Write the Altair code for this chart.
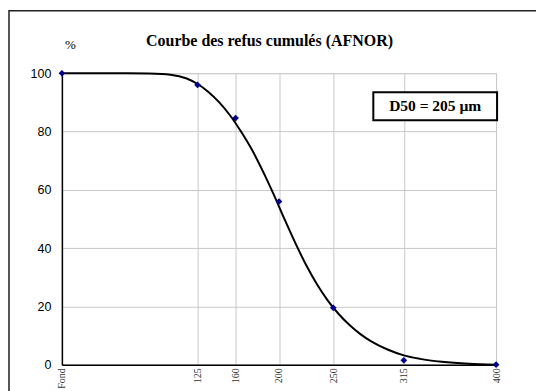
import altair as alt
import pandas as pd

# measured points (sieve opening in µm, cumulative retained %)
sieve = [0, 125, 160, 200, 250, 315, 400]
refus = [100, 96, 84.6, 56, 19.5, 1.5, 0]

# fitted curve
curve_x = [0, 60, 80, 100, 115, 125, 135, 145, 155, 165, 175, 185, 195, 205, 215, 225,
           235, 245, 255, 265, 275, 285, 300, 315, 330, 350, 375, 400]
curve_y = [100, 100, 99.9, 99.5, 98.2, 96.3, 93.6, 90, 85.5, 80, 73.8, 66.5, 58.5, 50, 41.8, 34.2,
           27.6, 22, 17.4, 13.6, 10.5, 8, 5.2, 3.2, 2, 1, 0.3, 0]

tick_values = [0, 125, 160, 200, 250, 315, 400]

pts = pd.DataFrame({"x": sieve, "y": refus})
crv = pd.DataFrame({"x": curve_x, "y": curve_y})

W, H = 435, 292

xscale = alt.Scale(domain=[0, 400], nice=False, zero=False)
yscale = alt.Scale(domain=[0, 100], nice=False)

xaxis = alt.Axis(values=tick_values, title=None, labelAngle=-90, labelAlign="right",
                 labelBaseline="middle", labelFontSize=10, labelFont="Liberation Serif",
                 labelColor="#333", labelExpr="datum.value == 0 ? 'Fond' : datum.label",
                 grid=True, gridColor="#c8c8c8", gridWidth=1, domainColor="black",
                 domainWidth=1.5, ticks=False, labelPadding=3)
yaxis = alt.Axis(values=[0, 20, 40, 60, 80, 100], title="%", titleAngle=0,
                 titleX=8, titleY=-29, titleAlign="center", titleBaseline="middle",
                 titleFont="Liberation Serif", titleFontSize=13, titleFontWeight="normal",
                 titleColor="black",
                 labelFont="Liberation Sans", labelFontSize=12.5, labelColor="black",
                 grid=True, gridColor="#c8c8c8", gridWidth=1, domainColor="black",
                 domainWidth=1.5, ticks=False, labelPadding=11)

frame = alt.Chart(pd.DataFrame({"a": [0]})).mark_rect(
    fill=None, stroke="#222", strokeWidth=1.5, clip=False
).encode(x=alt.value(-53), x2=alt.value(W + 60), y=alt.value(-62.5), y2=alt.value(H + 40))

line = alt.Chart(crv).mark_line(color="black", strokeWidth=2, interpolate="monotone").encode(
    x=alt.X("x:Q", scale=xscale, axis=xaxis),
    y=alt.Y("y:Q", scale=yscale, axis=yaxis),
)

points = alt.Chart(pts).mark_point(shape="diamond", filled=True, color="#00008b",
                                   size=45, opacity=1).encode(
    x=alt.X("x:Q", scale=xscale),
    y=alt.Y("y:Q", scale=yscale),
)

title = alt.Chart(pd.DataFrame({"t": ["Courbe des refus cumulés (AFNOR)"]})).mark_text(
    font="Liberation Serif", fontSize=16, fontWeight="bold", color="black",
    align="center", baseline="alphabetic"
).encode(text="t:N", x=alt.value(208), y=alt.value(-27))

box = alt.Chart(pd.DataFrame({"a": [0]})).mark_rect(
    fill="white", stroke="black", strokeWidth=2, clip=False
).encode(x=alt.value(312), x2=alt.value(436), y=alt.value(19), y2=alt.value(47))

boxtext = alt.Chart(pd.DataFrame({"t": ["D50 = 205 µm"]})).mark_text(
    font="Liberation Serif", fontSize=15.5, fontWeight="bold", color="black",
    align="center", baseline="middle"
).encode(text="t:N", x=alt.value(374), y=alt.value(33))

chart = alt.layer(frame, line, points, title, box, boxtext).properties(
    width=W, height=H,
    autosize=alt.AutoSizeParams(type="none"),
    padding={"left": 54, "top": 65, "right": 40, "bottom": 26},
).configure_view(stroke=None).configure(background="white")

chart.save("out.html", embed_options={"renderer": "svg", "actions": False})
